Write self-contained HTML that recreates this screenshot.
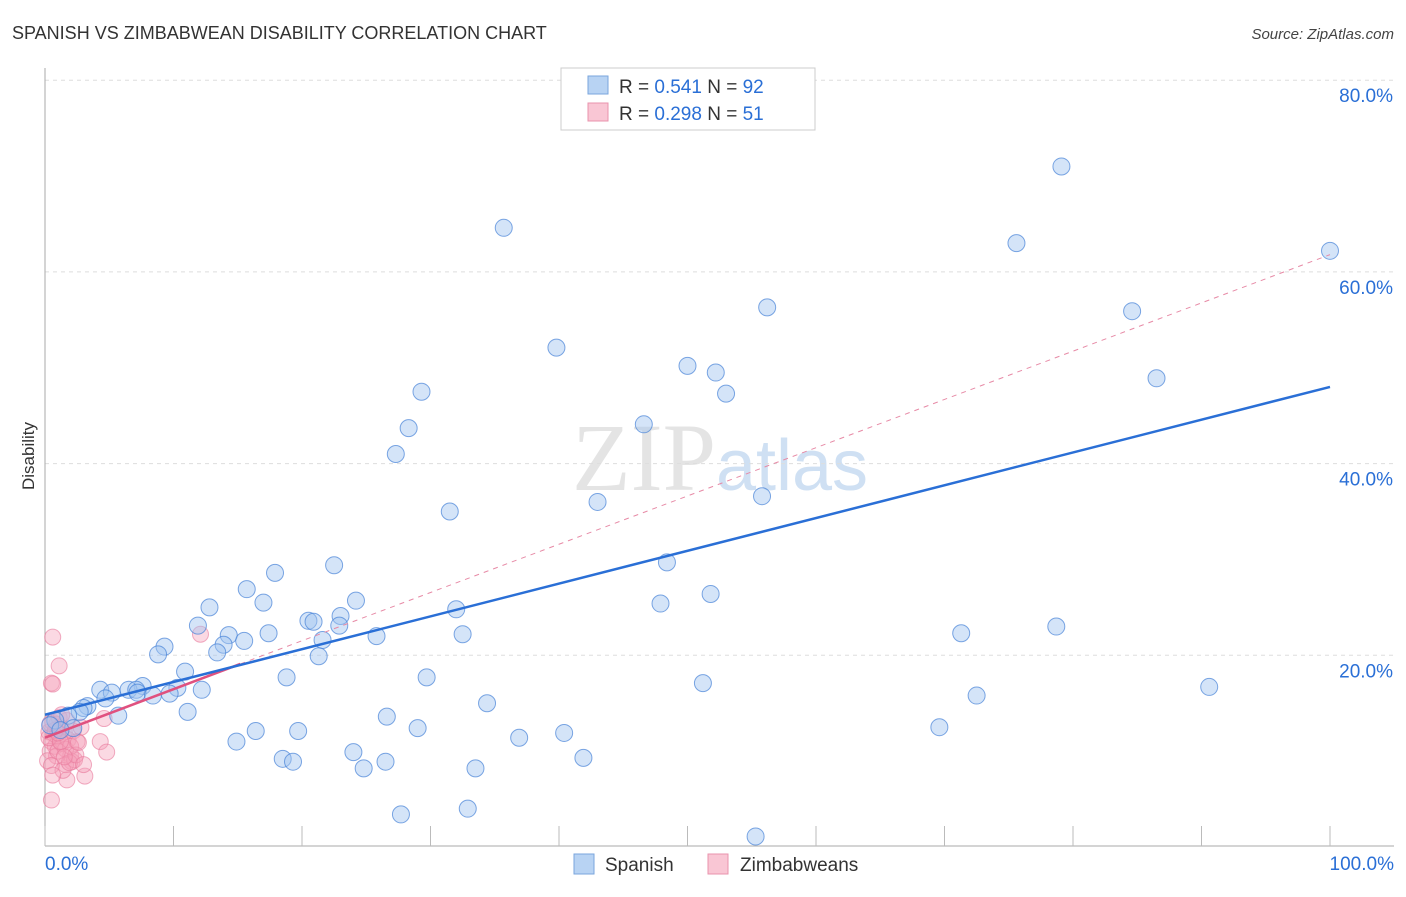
<!DOCTYPE html>
<html><head><meta charset="utf-8"><style>
body{margin:0;background:#fff;font-family:"Liberation Sans",sans-serif;}
</style></head><body>
<svg id="chart" width="1406" height="892" xmlns="http://www.w3.org/2000/svg" font-family="Liberation Sans, sans-serif">
<text x="12" y="39" font-size="18" fill="#333">SPANISH VS ZIMBABWEAN DISABILITY CORRELATION CHART</text>
<text x="1394" y="39" font-size="15" fill="#444" font-style="italic" text-anchor="end">Source: ZipAtlas.com</text>
<text x="720" y="490" font-size="96" text-anchor="middle" fill="#e4e4e4" font-family="Liberation Serif, serif">ZIP<tspan fill="#cfe0f3" font-family="Liberation Sans, sans-serif" font-size="72">atlas</tspan></text>
<text transform="translate(34,456) rotate(-90)" font-size="17" fill="#333" text-anchor="middle">Disability</text>
<g id="grid"></g><g id="axes"></g><g id="pts"></g><g id="lines"></g>
<g>
<rect x="561" y="68" width="254" height="62" fill="#fff" stroke="#ccc"/>
<rect x="588" y="76" width="20" height="18" fill="#b8d3f3" stroke="#7aa6dc"/>
<text x="619" y="93" font-size="19" fill="#333">R = <tspan fill="#2a6fd6">0.541</tspan>   N = <tspan fill="#2a6fd6">92</tspan></text>
<rect x="588" y="103" width="20" height="18" fill="#f9c6d4" stroke="#e993ad"/>
<text x="619" y="120" font-size="19" fill="#333">R = <tspan fill="#2a6fd6">0.298</tspan>   N = <tspan fill="#2a6fd6"> 51</tspan></text>
</g>
<g>
<rect x="574" y="854" width="20" height="20" fill="#b8d3f3" stroke="#7aa6dc"/>
<text x="605" y="871" font-size="19" fill="#333">Spanish</text>
<rect x="708" y="854" width="20" height="20" fill="#f9c6d4" stroke="#e993ad"/>
<text x="740" y="871" font-size="19" fill="#333">Zimbabweans</text>
</g>
</svg>
<script>
const xTicks=[0,10,20,30,40,50,60,70,80,90,100];
const yTicks=[20,40,60,80];
const spanishX=[35.7,79.1,75.6,100,56.2,84.6,39.8,50.0,52.2,86.5,29.3,53.0,28.3,46.6,27.3,31.5,43.0,55.8,22.5,48.4,17.9,15.7,17.0,12.8,24.2,51.8,47.9,32.0,23.0,20.5,20.9,22.9,11.9,78.7,14.3,17.4,32.5,25.8,71.3,21.6,15.5,13.9,9.3,13.4,8.8,21.3,10.9,18.8,29.7,51.2,90.6,10.3,7.6,12.2,4.3,5.2,6.5,7.1,7.2,8.4,9.7,72.5,4.7,3.3,3.0,34.4,2.7,11.1,5.7,1.8,26.6,0.8,29.0,69.6,19.7,16.4,2.2,36.9,40.4,14.9,24.0,18.5,19.3,41.9,26.5,24.8,33.5,32.9,27.7,55.3,0.4,1.2];
const spanishY=[64.6,71.0,63.0,62.2,56.3,55.9,52.1,50.2,49.5,48.9,47.5,47.3,43.7,44.1,41.0,35.0,36.0,36.6,29.4,29.7,28.6,26.9,25.5,25.0,25.7,26.4,25.4,24.8,24.1,23.6,23.5,23.1,23.1,23.0,22.1,22.3,22.2,22.0,22.3,21.6,21.5,21.1,20.9,20.3,20.1,19.9,18.3,17.7,17.7,17.1,16.7,16.6,16.8,16.4,16.4,16.1,16.4,16.4,16.1,15.8,16.0,15.8,15.5,14.7,14.5,15.0,14.1,14.1,13.7,13.7,13.6,13.2,12.4,12.5,12.1,12.1,12.4,11.4,11.9,11.0,9.9,9.2,8.9,9.3,8.9,8.2,8.2,4.0,3.4,1.1,12.7,12.2];
const zimX=[0.6,1.1,0.5,0.6,12.1,4.6,4.3,4.8,2.0,2.1,1.7,3.1,0.5,1.6,2.3,0.3,0.5,0.8,1.0,1.2,0.6,1.5,0.4,0.9,1.3,1.8,2.2,0.7,1.1,0.2,1.6,2.5,0.5,1.4,0.9,1.7,2.8,0.3,1.0,2.0,0.6,1.9,2.4,3.0,1.2,0.8,1.5,1.0,0.4,2.6,1.3];
const zimY=[21.9,18.9,17.1,17.0,22.2,13.4,11.0,9.9,9.6,8.9,7.0,7.4,4.9,8.6,9.1,12.0,11.0,10.5,11.5,12.5,13.0,12.0,10.0,9.5,10.8,11.2,12.1,11.8,13.5,9.0,10.2,11.0,8.5,8.0,12.8,13.2,12.5,11.4,10.0,10.5,7.5,8.8,9.6,8.6,11.0,12.2,9.4,11.9,12.9,10.9,13.8];
const blueFit=[0,13.8,100,48.0];
const pinkFit=[0,11.4,15.2,19.1,100,61.8];
const NS="http://www.w3.org/2000/svg";
const X=v=>45+v*12.85, Y=v=>847-v*9.585;
function mk(tag,attrs,parent){const e=document.createElementNS(NS,tag);for(const k in attrs)e.setAttribute(k,attrs[k]);document.getElementById(parent).appendChild(e);return e;}
yTicks.forEach(t=>{
 const l=mk('line',{x1:45,x2:1394,y1:Y(t),y2:Y(t),stroke:'#ddd','stroke-dasharray':'4,4'},'grid');
 
 
 const tx=mk('text',{x:1393,y:Y(t)+22,'font-size':19,fill:'#2a6fd6','text-anchor':'end'},'grid');
 tx.textContent=t.toFixed(1)+'%';
 
 
});
mk('line',{x1:45,x2:45,y1:68,y2:846,stroke:'#aaa'},'axes');
const xa=mk('line',{x1:45,x2:1394,y1:846,y2:846,stroke:'#aaa'},'axes');


xTicks.forEach(t=>{
 const l=mk('line',{x1:X(t),x2:X(t),y1:826,y2:846,stroke:'#bbb'},'axes');
 
 
});
const x0=mk('text',{x:45,y:870,'font-size':19,fill:'#2a6fd6'},'axes');x0.textContent='0.0%';


const x1=mk('text',{x:1394,y:870,'font-size':19,fill:'#2a6fd6','text-anchor':'end'},'axes');x1.textContent='100.0%';


zimX.forEach((v,i)=>{
 const c=mk('circle',{cx:X(v),cy:Y(zimY[i]),r:8,fill:'rgba(246,160,185,0.4)',stroke:'rgba(232,120,155,0.6)','stroke-width':1},'pts');
 
 
});
spanishX.forEach((v,i)=>{
 const c=mk('circle',{cx:X(v),cy:Y(spanishY[i]),r:8.5,fill:'rgba(160,196,240,0.45)',stroke:'rgba(70,130,215,0.7)','stroke-width':1},'pts');
 
 
});
const pd=mk('line',{x1:X(pinkFit[2]),y1:Y(pinkFit[3]),x2:X(pinkFit[4]),y2:Y(pinkFit[5]),stroke:'#e78aa6','stroke-width':1,'stroke-dasharray':'5,5'},'lines');


const ps=mk('line',{x1:X(pinkFit[0]),y1:Y(pinkFit[1]),x2:X(pinkFit[2]),y2:Y(pinkFit[3]),stroke:'#e0517f','stroke-width':2.5},'lines');


const bl=mk('line',{x1:X(blueFit[0]),y1:Y(blueFit[1]),x2:X(blueFit[2]),y2:Y(blueFit[3]),stroke:'#2a6fd6','stroke-width':2.5},'lines');


</script>
</body></html>
